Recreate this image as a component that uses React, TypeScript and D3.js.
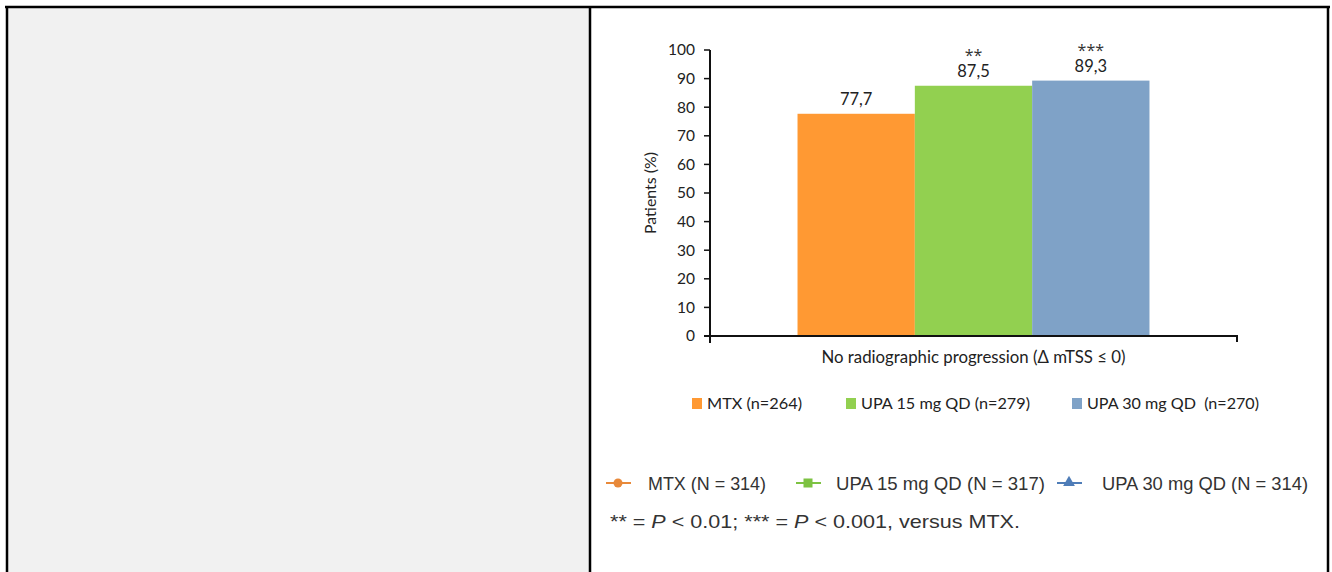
import React from "react";
import * as d3 from "d3";

const categories = ["No radiographic progression (Δ mTSS ≤ 0)"];
const seriesNames = ["MTX (n=264)", "UPA 15 mg QD (n=279)", "UPA 30 mg QD  (n=270)"];
const seriesValues = [77.7, 87.5, 89.3];
const significance = ["", "**", "***"];
const yTicks = [0, 10, 20, 30, 40, 50, 60, 70, 80, 90, 100];
const barColors = ["#FF9933", "#92D050", "#7FA2C7"];
const lowerLegend = ["MTX (N = 314)", "UPA 15 mg QD (N = 317)", "UPA 30 mg QD (N = 314)"];
const lowerLegendColors = ["#E8893A", "#7DC242", "#4F7DB8"];

const W = 1332;
const H = 572;
const FONT = "Lato, 'Open Sans', sans-serif";
const AFONT = "'Liberation Sans', Arial, sans-serif";

export default function App() {
  const y = d3.scaleLinear().domain([0, 100]).range([336, 50]);
  const x0 = d3.scaleBand().domain(categories).range([710, 1237]);
  const x1 = d3
    .scaleBand()
    .domain(seriesNames)
    .range([0, x0.bandwidth()])
    .paddingInner(0)
    .paddingOuter(0.746);
  const fmt = (v: number) => d3.format(".1f")(v).replace(".", ",");

  const legendX = [692, 846, 1072];
  const legendW = [95, 169, 172];
  const lowerX = [606, 796, 1057];
  const lowerTextX = [648, 836, 1102];
  const lowerTextW = [118, 209, 206];

  return (
    <svg
      width={W}
      height={H}
      style={{ position: "absolute", left: 0, top: 0, display: "block", background: "#fff" }}
    >
      <rect x={8} y={8} width={581} height={H - 8} fill="#F1F1F1" />
      <line x1={5} x2={1330} y1={7} y2={7} stroke="#000" strokeWidth={2.5} />
      <line x1={7} x2={7} y1={6} y2={H} stroke="#000" strokeWidth={2.5} />
      <line x1={590} x2={590} y1={6} y2={H} stroke="#000" strokeWidth={2.5} />
      <line x1={1328} x2={1328} y1={6} y2={H} stroke="#000" strokeWidth={2.5} />

      {/* bars */}
      {categories.map((c) => (
        <g key={c} transform={`translate(${x0(c)},0)`}>
          {seriesValues.map((v, i) => (
            <g key={i}>
              <rect
                x={x1(seriesNames[i])!}
                y={y(v)}
                width={x1.bandwidth()}
                height={y(0) - y(v)}
                fill={barColors[i]}
              />
              <text
                x={x1(seriesNames[i])! + x1.bandwidth() / 2}
                y={y(v) - 9}
                textAnchor="middle"
                fontFamily={FONT}
                fontSize={16.5}
                fill="#222"
              >
                {fmt(v)}
              </text>
              {significance[i] && (
                <text
                  x={x1(seriesNames[i])! + x1.bandwidth() / 2}
                  y={y(v) - 25}
                  textAnchor="middle"
                  fontFamily="'Open Sans', sans-serif"
                  fontSize={16}
                  fill="#333"
                >
                  {significance[i]}
                </text>
              )}
            </g>
          ))}
          <text
            x={x0.bandwidth() / 2}
            y={363}
            textAnchor="middle"
            fontFamily={FONT}
            fontSize={16.5}
            fill="#222"
            textLength={304}
            lengthAdjust="spacingAndGlyphs"
          >
            {c}
          </text>
        </g>
      ))}

      {/* y axis */}
      <line x1={710} x2={710} y1={y(100)} y2={y(0) + 7} stroke="#111" strokeWidth={2} />
      {yTicks.map((t) => (
        <g key={t}>
          <line x1={704} x2={710} y1={y(t)} y2={y(t)} stroke="#111" strokeWidth={1.5} />
          <text
            x={695}
            y={y(t)}
            dy="0.35em"
            textAnchor="end"
            fontFamily={FONT}
            fontSize={15.5}
            fill="#222"
          >
            {t}
          </text>
        </g>
      ))}
      {/* x axis */}
      <line x1={704} x2={1237} y1={y(0)} y2={y(0)} stroke="#111" strokeWidth={2} />
      <line x1={1237} x2={1237} y1={y(0) - 1} y2={y(0) + 6} stroke="#111" strokeWidth={2} />
      <text
        transform={`translate(656,${(y(0) + y(100)) / 2}) rotate(-90)`}
        textAnchor="middle"
        fontFamily={FONT}
        fontSize={16}
        fill="#222"
        textLength={82}
        lengthAdjust="spacingAndGlyphs"
      >
        Patients (%)
      </text>

      {/* upper legend */}
      {seriesNames.map((s, i) => (
        <g key={s}>
          <rect x={legendX[i]} y={398} width={10} height={11} fill={barColors[i]} />
          <text
            x={legendX[i] + 15}
            y={409}
            fontFamily={FONT}
            fontSize={16}
            fill="#222"
            style={{ whiteSpace: "pre" }}
            textLength={legendW[i]}
            lengthAdjust="spacingAndGlyphs"
          >
            {s}
          </text>
        </g>
      ))}

      {/* lower legend */}
      {lowerLegend.map((s, i) => {
        const cx = lowerX[i] + 12;
        const cy = 483;
        return (
          <g key={s}>
            <line x1={lowerX[i]} x2={lowerX[i] + 25} y1={cy} y2={cy} stroke={lowerLegendColors[i]} strokeWidth={2} />
            {i === 0 && <circle cx={cx} cy={cy} r={4.5} fill={lowerLegendColors[i]} />}
            {i === 1 && <rect x={cx - 4.5} y={cy - 4.5} width={9} height={9} fill={lowerLegendColors[i]} />}
            {i === 2 && (
              <path
                d={d3.symbol(d3.symbolTriangle, 60)()!}
                transform={`translate(${cx},${cy - 0.5})`}
                fill={lowerLegendColors[i]}
              />
            )}
            <text
              x={lowerTextX[i]}
              y={cy + 7}
              fontFamily={AFONT}
              fontSize={19}
              fill="#333"
              textLength={lowerTextW[i]}
              lengthAdjust="spacingAndGlyphs"
            >
              {s}
            </text>
          </g>
        );
      })}
      <text
        x={610}
        y={528}
        fontFamily={AFONT}
        fontSize={19}
        fill="#333"
        textLength={410}
        lengthAdjust="spacingAndGlyphs"
      >
        ** = <tspan fontStyle="italic">P</tspan> &lt; 0.01; *** = <tspan fontStyle="italic">P</tspan> &lt; 0.001, versus MTX.
      </text>
    </svg>
  );
}
